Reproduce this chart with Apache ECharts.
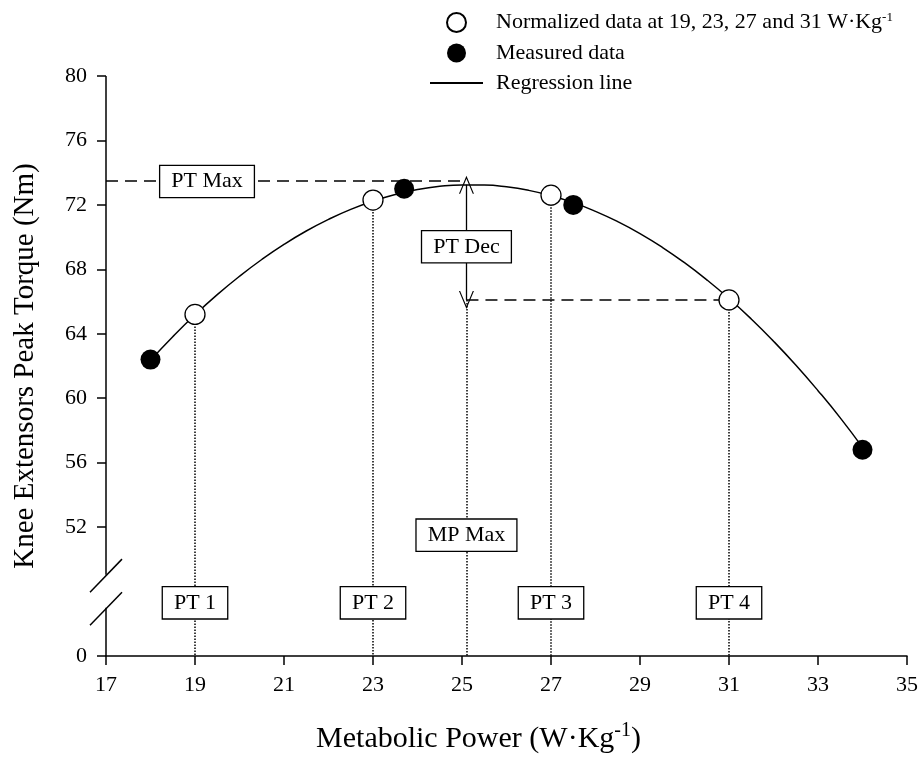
<!DOCTYPE html>
<html>
<head>
<meta charset="utf-8">
<script src="https://cdn.jsdelivr.net/npm/echarts@6/dist/echarts.min.js"></script>
<style>
html,body{margin:0;padding:0;background:#fff;}
#chart{width:922px;height:762px;}
</style>
</head>
<body>
<div id="chart"></div>
<script>
// measured points
const measuredX = [18, 23.7, 27.5, 34];
const measuredY = [62.4, 73.0, 72.0, 56.8];
// normalized at 19, 23, 27, 31
const normX = [19, 23, 27, 31];
const normY = [65.2, 72.3, 72.6, 66.1];
// regression curve
const regX = [18, 18.5, 19, 19.5, 20, 20.5, 21, 21.5, 22, 22.5, 23, 23.5, 24, 24.5, 25, 25.5, 26,
              26.5, 27, 27.5, 28, 28.5, 29, 29.5, 30, 30.5, 31, 31.5, 32, 32.5, 33, 33.5, 34];
const regY = [62.36, 63.82, 65.18, 66.43, 67.57, 68.61, 69.55, 70.38, 71.1, 71.72, 72.23, 72.64, 72.95, 73.15, 73.24, 73.23, 73.12,
              72.9, 72.57, 72.14, 71.6, 70.96, 70.22, 69.37, 68.41, 67.35, 66.19, 64.92, 63.54, 62.06, 60.47, 58.78, 56.95];
// annotation values
const ptMax = 73.5;
const mpMax = 25.1;
const ptDecLow = 66.1;
const yTickValues = [44, 52, 56, 60, 64, 68, 72, 76, 80]; // 44 stands for the 0 below the break
const boxLabels = ['PT Max', 'PT Dec', 'MP Max', 'PT 1', 'PT 2', 'PT 3', 'PT 4'];
const boxX = [19.27, 25.1, 25.1, 19, 23, 27, 31];
const boxY = [73.45, 69.4, 51.5, 47.3, 47.3, 47.3, 47.3];
// axis break (value units on the y axis)
const gapLow = 47.0;
const gapHigh = 49.05;

const FONT = 'Liberation Serif';
const NORM = 'Normalized data at 19, 23, 27 and 31 W·Kg-1';
const MEAS = 'Measured data';
const REG = 'Regression line';

const chart = echarts.init(document.getElementById('chart'));

const zip = (a, b) => a.map((v, i) => [v, b[i]]);

const chevron = 'path://M5,0 L10,10 L9.2,10 L5,1.6 L0.8,10 L0,10 Z';

const option = {
    animation: false,
    textStyle: { fontFamily: FONT, color: '#000' },
    grid: { left: 106, right: 15, top: 76, bottom: 106 },
    legend: {
        orient: 'vertical',
        left: 424,
        top: 6,
        itemWidth: 53,
        itemHeight: 19,
        itemGap: 8,
        data: [NORM, MEAS, { name: REG, itemStyle: { color: 'transparent', borderWidth: 0 } }],
        formatter: function (name) {
            if (name === NORM) return '{t|Normalized data at 19, 23, 27 and 31 W·Kg}{s|-1}';
            return '{t|' + name + '}';
        },
        textStyle: {
            color: '#000',
            fontFamily: FONT,
            fontSize: 22,
            padding: [0, 0, 0, 8],
            rich: {
                t: { fontSize: 22, fontFamily: FONT, color: '#000', lineHeight: 22 },
                s: { fontSize: 13, fontFamily: FONT, color: '#000', lineHeight: 22, padding: [0, 0, 10, 0] }
            }
        }
    },
    xAxis: {
        type: 'value',
        min: 17,
        max: 35,
        interval: 2,
        name: '{t|Metabolic Power (W·Kg}{s|-1}{t|)}',
        nameLocation: 'middle',
        nameGap: 66,
        nameTextStyle: {
            padding: [0, 56, 0, 0],
            rich: {
                t: { fontSize: 30, fontFamily: FONT, color: '#000', lineHeight: 34 },
                s: { fontSize: 20, fontFamily: FONT, color: '#000', lineHeight: 34, padding: [0, 0, 16, 0] }
            }
        },
        splitLine: { show: false },
        axisLine: { lineStyle: { color: '#000', width: 1.5 } },
        axisTick: { inside: false, length: 9, lineStyle: { color: '#000', width: 1.5 } },
        axisLabel: { fontSize: 22, fontFamily: FONT, color: '#000', margin: 18 }
    },
    yAxis: {
        type: 'value',
        min: 44,
        max: 80,
        interval: 4,
        name: 'Knee Extensors Peak Torque (Nm)',
        nameLocation: 'middle',
        nameGap: 66,
        nameTextStyle: { fontSize: 29, fontFamily: FONT, color: '#000' },
        splitLine: { show: false },
        axisLine: { show: false },
        axisTick: { customValues: yTickValues, length: 9, lineStyle: { color: '#000', width: 1.5 } },
        axisLabel: {
            customValues: yTickValues,
            fontSize: 22, fontFamily: FONT, color: '#000', margin: 19,
            formatter: v => (v === 44 ? '0' : String(v))
        }
    },
    series: [
        {
            // broken y-axis line
            name: 'axis',
            type: 'line',
            symbol: 'none',
            silent: true,
            lineStyle: { color: '#000', width: 1.5 },
            data: [[17, 44], [17, gapLow], [17, '-'], [17, gapHigh], [17, 80]],
            z: 1
        },
        {
            name: REG,
            type: 'line',
            smooth: true,
            symbol: 'none',
            lineStyle: { color: '#000', width: 1.5 },
            itemStyle: { color: '#000' },
            data: zip(regX, regY),
            z: 3,
            markLine: {
                silent: true,
                symbol: 'none',
                animation: false,
                label: { show: false },
                lineStyle: { color: '#000', width: 1.5, type: 'dotted' },
                data: [
                    [{ coord: [17, ptMax], lineStyle: { type: [12, 7], width: 1.5 } }, { coord: [mpMax, ptMax] }],
                    [{ coord: [mpMax, ptDecLow], lineStyle: { type: [12, 7], width: 1.5 } }, { coord: [normX[3], ptDecLow] }],
                    [{ coord: [mpMax, 73.25], symbol: chevron, symbolSize: [15, 18], lineStyle: { type: 'solid', width: 1.3 } },
                     { coord: [mpMax, ptDecLow], symbol: chevron, symbolSize: [15, 18] }],
                    [{ coord: [normX[0], normY[0]] }, { coord: [normX[0], 44] }],
                    [{ coord: [normX[1], normY[1]] }, { coord: [normX[1], 44] }],
                    [{ coord: [mpMax, ptDecLow] }, { coord: [mpMax, 44] }],
                    [{ coord: [normX[2], normY[2]] }, { coord: [normX[2], 44] }],
                    [{ coord: [normX[3], normY[3]] }, { coord: [normX[3], 44] }]
                ]
            }
        },
        {
            name: NORM,
            type: 'scatter',
            symbol: 'circle',
            symbolSize: 20,
            itemStyle: { color: '#fff', borderColor: '#000', borderWidth: 1.3, opacity: 1 },
            data: zip(normX, normY),
            z: 5
        },
        {
            name: MEAS,
            type: 'scatter',
            symbol: 'circle',
            symbolSize: 20,
            itemStyle: { color: '#000', opacity: 1 },
            data: zip(measuredX, measuredY),
            z: 5
        },
        {
            name: 'boxes',
            type: 'scatter',
            symbol: 'rect',
            symbolSize: 1,
            silent: true,
            itemStyle: { color: 'transparent', opacity: 1 },
            data: boxLabels.map((t, i) => ({ value: [boxX[i], boxY[i]], name: t })),
            label: {
                show: true,
                position: 'inside',
                formatter: p => p.name,
                fontSize: 22,
                fontFamily: FONT,
                color: '#000',
                opacity: 1,
                backgroundColor: '#fff',
                borderColor: '#000',
                borderWidth: 1.3,
                padding: [5, 11, 4, 11]
            },
            z: 10
        }
    ]
};

chart.setOption(option);

// the two slashes of the axis break, placed through the axis scales
function breakMarks() {
    const px = p => chart.convertToPixel({ gridIndex: 0 }, p);
    const a = px([17, gapHigh]);
    const b = px([17, gapLow]);
    const h = b[1] - a[1];
    const make = (cy) => ({
        type: 'line',
        silent: true,
        shape: { x1: a[0] - 16, y1: cy + h / 2, x2: a[0] + 16, y2: cy - h / 2 },
        style: { stroke: '#000', lineWidth: 1.5 }
    });
    chart.setOption({ graphic: [make(a[1] + 1), make(b[1] + 1)] });
}
breakMarks();
</script>
</body>
</html>
